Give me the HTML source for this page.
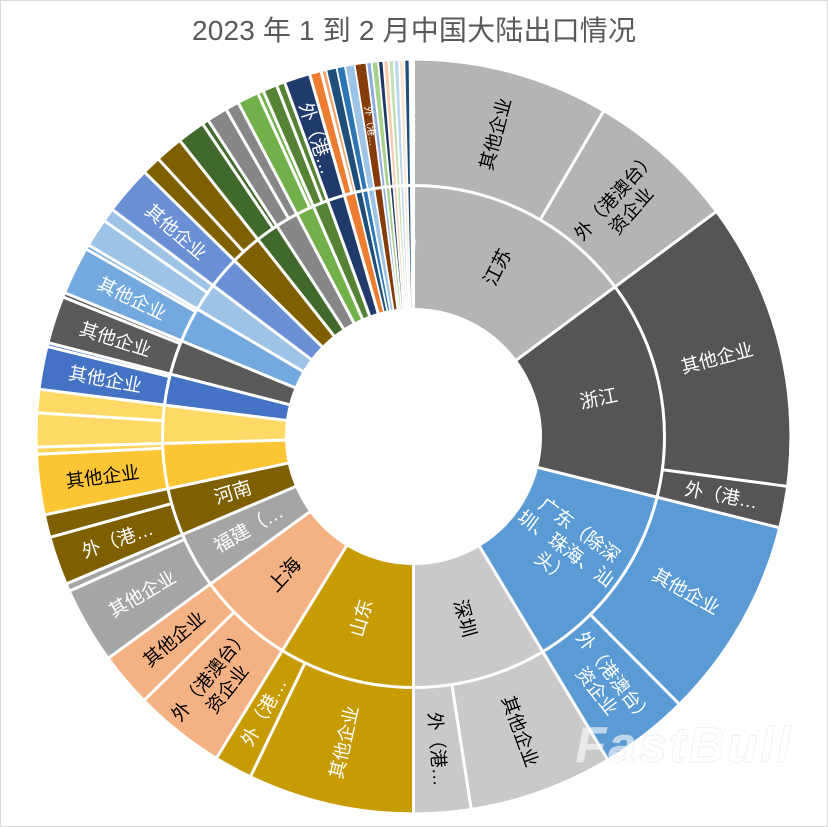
<!DOCTYPE html>
<html>
<head>
<meta charset="utf-8">
<style>
  html,body{margin:0;padding:0;background:#fff;width:828px;height:827px;overflow:hidden;}
  svg{display:block;}
  text{font-family:"Liberation Sans","Noto Sans CJK SC",sans-serif;}
</style>
</head>
<body>
<svg width="828" height="827" viewBox="0 0 828 827" xmlns="http://www.w3.org/2000/svg">
  <rect x="0" y="0" width="828" height="827" fill="#ffffff"/>
  <rect x="0.5" y="0.5" width="827" height="826" fill="none" stroke="#d9d9d9" stroke-width="1"/>

  <text x="414" y="40" font-size="28" fill="#595959" text-anchor="middle" textLength="444">2023 年 1 到 2 月中国大陆出口情况</text>

  <!-- INNER RING r 127..251 -->
  <g fill="none" stroke-width="124" transform="rotate(-90 413.5 436.5)">
    <circle cx="413.5" cy="436.5" r="189" pathLength="360" stroke="#b4b4b4" stroke-dasharray="53.4 999"/>
    <circle cx="413.5" cy="436.5" r="189" pathLength="360" stroke="#555555" stroke-dasharray="0 53.4 50.6 999"/>
    <circle cx="413.5" cy="436.5" r="189" pathLength="360" stroke="#5b9bd5" stroke-dasharray="0 104 45 999"/>
    <circle cx="413.5" cy="436.5" r="189" pathLength="360" stroke="#c9c9c9" stroke-dasharray="0 149 31 999"/>
    <circle cx="413.5" cy="436.5" r="189" pathLength="360" stroke="#c79c02" stroke-dasharray="0 179.95 31.55 999"/>
    <circle cx="413.5" cy="436.5" r="189" pathLength="360" stroke="#f4b183" stroke-dasharray="0 211.5 22.5 999"/>
    <circle cx="413.5" cy="436.5" r="189" pathLength="360" stroke="#a5a5a5" stroke-dasharray="0 234 13 999"/>
    <circle cx="413.5" cy="436.5" r="189" pathLength="360" stroke="#7f6000" stroke-dasharray="0 247 11 999"/>
    <circle cx="413.5" cy="436.5" r="189" pathLength="360" stroke="#fcc534" stroke-dasharray="0 258 10.4 999"/>
    <circle cx="413.5" cy="436.5" r="189" pathLength="360" stroke="#ffd966" stroke-dasharray="0 268.4 8.8 999"/>
    <circle cx="413.5" cy="436.5" r="189" pathLength="360" stroke="#4472c4" stroke-dasharray="0 277.2 7.2 999"/>
    <circle cx="413.5" cy="436.5" r="189" pathLength="360" stroke="#5a5a5a" stroke-dasharray="0 284.4 8 999"/>
    <circle cx="413.5" cy="436.5" r="189" pathLength="360" stroke="#73a9de" stroke-dasharray="0 292.4 8.1 999"/>
    <circle cx="413.5" cy="436.5" r="189" pathLength="360" stroke="#9dc3e6" stroke-dasharray="0 300.5 6.5 999"/>
    <circle cx="413.5" cy="436.5" r="189" pathLength="360" stroke="#6a8fd5" stroke-dasharray="0 307 7.5 999"/>
    <circle cx="413.5" cy="436.5" r="189" pathLength="360" stroke="#7f6000" stroke-dasharray="0 314.5 7.2 999"/>
    <circle cx="413.5" cy="436.5" r="189" pathLength="360" stroke="#42692c" stroke-dasharray="0 321.7 5.3 999"/>
    <circle cx="413.5" cy="436.5" r="189" pathLength="360" stroke="#878787" stroke-dasharray="0 327 5.3 999"/>
    <circle cx="413.5" cy="436.5" r="189" pathLength="360" stroke="#72b04a" stroke-dasharray="0 332.3 4.2 999"/>
    <circle cx="413.5" cy="436.5" r="189" pathLength="360" stroke="#558234" stroke-dasharray="0 336.5 3.5 999"/>
    <circle cx="413.5" cy="436.5" r="189" pathLength="360" stroke="#203b6b" stroke-dasharray="0 340 4 999"/>
    <circle cx="413.5" cy="436.5" r="189" pathLength="360" stroke="#ed7d31" stroke-dasharray="0 344 2.6 999"/>
    <circle cx="413.5" cy="436.5" r="189" pathLength="360" stroke="#1f4e79" stroke-dasharray="0 346.6 1.6 999"/>
    <circle cx="413.5" cy="436.5" r="189" pathLength="360" stroke="#2e75b6" stroke-dasharray="0 348.2 1.3 999"/>
    <circle cx="413.5" cy="436.5" r="189" pathLength="360" stroke="#9dc3e6" stroke-dasharray="0 349.5 1.5 999"/>
    <circle cx="413.5" cy="436.5" r="189" pathLength="360" stroke="#843c0c" stroke-dasharray="0 351 1.8 999"/>
    <circle cx="413.5" cy="436.5" r="189" pathLength="360" stroke="#8faadc" stroke-dasharray="0 352.8 0.8 999"/>
    <circle cx="413.5" cy="436.5" r="189" pathLength="360" stroke="#a9d18e" stroke-dasharray="0 353.6 1 999"/>
    <circle cx="413.5" cy="436.5" r="189" pathLength="360" stroke="#203864" stroke-dasharray="0 354.6 0.8 999"/>
    <circle cx="413.5" cy="436.5" r="189" pathLength="360" stroke="#f8cbad" stroke-dasharray="0 355.4 0.8 999"/>
    <circle cx="413.5" cy="436.5" r="189" pathLength="360" stroke="#c5e0b4" stroke-dasharray="0 356.2 0.8 999"/>
    <circle cx="413.5" cy="436.5" r="189" pathLength="360" stroke="#bdd7ee" stroke-dasharray="0 357 0.8 999"/>
    <circle cx="413.5" cy="436.5" r="189" pathLength="360" stroke="#fbe5d6" stroke-dasharray="0 357.8 0.8 999"/>
    <circle cx="413.5" cy="436.5" r="189" pathLength="360" stroke="#1f4e79" stroke-dasharray="0 358.6 0.8 999"/>
  </g>

  <!-- OUTER RING r 251..376 -->
  <g fill="none" stroke-width="125" transform="rotate(-90 413.5 436.5)">
    <circle cx="413.5" cy="436.5" r="313.5" pathLength="360" stroke="#b4b4b4" stroke-dasharray="53.4 999"/>
    <circle cx="413.5" cy="436.5" r="313.5" pathLength="360" stroke="#555555" stroke-dasharray="0 53.4 50.6 999"/>
    <circle cx="413.5" cy="436.5" r="313.5" pathLength="360" stroke="#5b9bd5" stroke-dasharray="0 104 45 999"/>
    <circle cx="413.5" cy="436.5" r="313.5" pathLength="360" stroke="#c9c9c9" stroke-dasharray="0 149 31 999"/>
    <circle cx="413.5" cy="436.5" r="313.5" pathLength="360" stroke="#c79c02" stroke-dasharray="0 179.95 31.55 999"/>
    <circle cx="413.5" cy="436.5" r="313.5" pathLength="360" stroke="#f4b183" stroke-dasharray="0 211.5 22.5 999"/>
    <circle cx="413.5" cy="436.5" r="313.5" pathLength="360" stroke="#a5a5a5" stroke-dasharray="0 234 13 999"/>
    <circle cx="413.5" cy="436.5" r="313.5" pathLength="360" stroke="#7f6000" stroke-dasharray="0 247 11 999"/>
    <circle cx="413.5" cy="436.5" r="313.5" pathLength="360" stroke="#fcc534" stroke-dasharray="0 258 9.3 999"/>
    <circle cx="413.5" cy="436.5" r="313.5" pathLength="360" stroke="#fdd35a" stroke-dasharray="0 267.3 1.1 999"/>
    <circle cx="413.5" cy="436.5" r="313.5" pathLength="360" stroke="#ffd966" stroke-dasharray="0 268.4 8.8 999"/>
    <circle cx="413.5" cy="436.5" r="313.5" pathLength="360" stroke="#4472c4" stroke-dasharray="0 277.2 7.2 999"/>
    <circle cx="413.5" cy="436.5" r="313.5" pathLength="360" stroke="#5a5a5a" stroke-dasharray="0 284.4 8 999"/>
    <circle cx="413.5" cy="436.5" r="313.5" pathLength="360" stroke="#73a9de" stroke-dasharray="0 292.4 8.1 999"/>
    <circle cx="413.5" cy="436.5" r="313.5" pathLength="360" stroke="#9dc3e6" stroke-dasharray="0 300.5 6.5 999"/>
    <circle cx="413.5" cy="436.5" r="313.5" pathLength="360" stroke="#6a8fd5" stroke-dasharray="0 307 7.5 999"/>
    <circle cx="413.5" cy="436.5" r="313.5" pathLength="360" stroke="#7f6000" stroke-dasharray="0 314.5 7.2 999"/>
    <circle cx="413.5" cy="436.5" r="313.5" pathLength="360" stroke="#42692c" stroke-dasharray="0 321.7 5.3 999"/>
    <circle cx="413.5" cy="436.5" r="313.5" pathLength="360" stroke="#878787" stroke-dasharray="0 327 5.3 999"/>
    <circle cx="413.5" cy="436.5" r="313.5" pathLength="360" stroke="#72b04a" stroke-dasharray="0 332.3 4.2 999"/>
    <circle cx="413.5" cy="436.5" r="313.5" pathLength="360" stroke="#558234" stroke-dasharray="0 336.5 3.5 999"/>
    <circle cx="413.5" cy="436.5" r="313.5" pathLength="360" stroke="#203b6b" stroke-dasharray="0 340 4 999"/>
    <circle cx="413.5" cy="436.5" r="313.5" pathLength="360" stroke="#ed7d31" stroke-dasharray="0 344 1.8 999"/>
    <circle cx="413.5" cy="436.5" r="313.5" pathLength="360" stroke="#f4a46a" stroke-dasharray="0 345.8 0.8 999"/>
    <circle cx="413.5" cy="436.5" r="313.5" pathLength="360" stroke="#1f4e79" stroke-dasharray="0 346.6 1.6 999"/>
    <circle cx="413.5" cy="436.5" r="313.5" pathLength="360" stroke="#2e75b6" stroke-dasharray="0 348.2 1.3 999"/>
    <circle cx="413.5" cy="436.5" r="313.5" pathLength="360" stroke="#9dc3e6" stroke-dasharray="0 349.5 1.5 999"/>
    <circle cx="413.5" cy="436.5" r="313.5" pathLength="360" stroke="#843c0c" stroke-dasharray="0 351 1.8 999"/>
    <circle cx="413.5" cy="436.5" r="313.5" pathLength="360" stroke="#8faadc" stroke-dasharray="0 352.8 0.8 999"/>
    <circle cx="413.5" cy="436.5" r="313.5" pathLength="360" stroke="#a9d18e" stroke-dasharray="0 353.6 1 999"/>
    <circle cx="413.5" cy="436.5" r="313.5" pathLength="360" stroke="#203864" stroke-dasharray="0 354.6 0.8 999"/>
    <circle cx="413.5" cy="436.5" r="313.5" pathLength="360" stroke="#f8cbad" stroke-dasharray="0 355.4 0.8 999"/>
    <circle cx="413.5" cy="436.5" r="313.5" pathLength="360" stroke="#c5e0b4" stroke-dasharray="0 356.2 0.8 999"/>
    <circle cx="413.5" cy="436.5" r="313.5" pathLength="360" stroke="#bdd7ee" stroke-dasharray="0 357 0.8 999"/>
    <circle cx="413.5" cy="436.5" r="313.5" pathLength="360" stroke="#fbe5d6" stroke-dasharray="0 357.8 0.8 999"/>
    <circle cx="413.5" cy="436.5" r="313.5" pathLength="360" stroke="#1f4e79" stroke-dasharray="0 358.6 0.8 999"/>
  </g>

  <!-- separators: province boundaries (full) -->
  <g stroke="#ffffff" stroke-width="3">
    <line x1="413.5" y1="311" x2="413.5" y2="58" transform="rotate(0 413.5 436.5)"/>
    <line x1="413.5" y1="311" x2="413.5" y2="58" transform="rotate(53.4 413.5 436.5)"/>
    <line x1="413.5" y1="311" x2="413.5" y2="58" transform="rotate(104 413.5 436.5)"/>
    <line x1="413.5" y1="311" x2="413.5" y2="58" transform="rotate(149 413.5 436.5)"/>
    <line x1="413.5" y1="311" x2="413.5" y2="58" transform="rotate(180 413.5 436.5)"/>
    <line x1="413.5" y1="311" x2="413.5" y2="58" transform="rotate(211.5 413.5 436.5)"/>
    <line x1="413.5" y1="311" x2="413.5" y2="58" transform="rotate(234 413.5 436.5)"/>
    <line x1="413.5" y1="311" x2="413.5" y2="58" transform="rotate(247 413.5 436.5)"/>
    <line x1="413.5" y1="311" x2="413.5" y2="58" transform="rotate(258 413.5 436.5)"/>
    <line x1="413.5" y1="311" x2="413.5" y2="58" transform="rotate(268.4 413.5 436.5)"/>
    <line x1="413.5" y1="311" x2="413.5" y2="58" transform="rotate(277.2 413.5 436.5)"/>
    <line x1="413.5" y1="311" x2="413.5" y2="58" transform="rotate(284.4 413.5 436.5)"/>
    <line x1="413.5" y1="311" x2="413.5" y2="58" transform="rotate(292.4 413.5 436.5)"/>
    <line x1="413.5" y1="311" x2="413.5" y2="58" transform="rotate(300.5 413.5 436.5)"/>
    <line x1="413.5" y1="311" x2="413.5" y2="58" transform="rotate(307 413.5 436.5)"/>
    <line x1="413.5" y1="311" x2="413.5" y2="58" transform="rotate(314.5 413.5 436.5)"/>
    <line x1="413.5" y1="311" x2="413.5" y2="58" transform="rotate(321.7 413.5 436.5)"/>
    <line x1="413.5" y1="311" x2="413.5" y2="58" transform="rotate(327 413.5 436.5)"/>
    <line x1="413.5" y1="311" x2="413.5" y2="58" transform="rotate(332.3 413.5 436.5)"/>
    <line x1="413.5" y1="311" x2="413.5" y2="58" transform="rotate(336.5 413.5 436.5)"/>
    <line x1="413.5" y1="311" x2="413.5" y2="58" transform="rotate(340 413.5 436.5)"/>
    <line x1="413.5" y1="311" x2="413.5" y2="58" transform="rotate(344 413.5 436.5)"/>
  </g>
  <g stroke="#ffffff" stroke-width="1.8">
    <line x1="413.5" y1="311" x2="413.5" y2="58" transform="rotate(346.6 413.5 436.5)"/>
    <line x1="413.5" y1="311" x2="413.5" y2="58" transform="rotate(348.2 413.5 436.5)"/>
    <line x1="413.5" y1="311" x2="413.5" y2="58" transform="rotate(349.5 413.5 436.5)"/>
    <line x1="413.5" y1="311" x2="413.5" y2="58" transform="rotate(351 413.5 436.5)"/>
    <line x1="413.5" y1="311" x2="413.5" y2="58" transform="rotate(352.8 413.5 436.5)"/>
    <line x1="413.5" y1="311" x2="413.5" y2="58" transform="rotate(353.6 413.5 436.5)"/>
    <line x1="413.5" y1="311" x2="413.5" y2="58" transform="rotate(354.6 413.5 436.5)"/>
    <line x1="413.5" y1="311" x2="413.5" y2="58" transform="rotate(355.4 413.5 436.5)"/>
    <line x1="413.5" y1="311" x2="413.5" y2="58" transform="rotate(356.2 413.5 436.5)"/>
    <line x1="413.5" y1="311" x2="413.5" y2="58" transform="rotate(357 413.5 436.5)"/>
    <line x1="413.5" y1="311" x2="413.5" y2="58" transform="rotate(357.8 413.5 436.5)"/>
    <line x1="413.5" y1="311" x2="413.5" y2="58" transform="rotate(358.6 413.5 436.5)"/>
    <line x1="413.5" y1="311" x2="413.5" y2="58" transform="rotate(359.4 413.5 436.5)"/>
  </g>
  <!-- child boundaries (outer ring only) -->
  <g stroke="#ffffff" stroke-width="3">
    <line x1="413.5" y1="186" x2="413.5" y2="58" transform="rotate(30.3 413.5 436.5)"/>
    <line x1="413.5" y1="186" x2="413.5" y2="58" transform="rotate(97.6 413.5 436.5)"/>
    <line x1="413.5" y1="186" x2="413.5" y2="58" transform="rotate(135.2 413.5 436.5)"/>
    <line x1="413.5" y1="186" x2="413.5" y2="58" transform="rotate(171.2 413.5 436.5)"/>
    <line x1="413.5" y1="186" x2="413.5" y2="58" transform="rotate(205.6 413.5 436.5)"/>
    <line x1="413.5" y1="186" x2="413.5" y2="58" transform="rotate(225.6 413.5 436.5)"/>
    <line x1="413.5" y1="186" x2="413.5" y2="58" transform="rotate(245.8 413.5 436.5)"/>
    <line x1="413.5" y1="186" x2="413.5" y2="58" transform="rotate(254.5 413.5 436.5)"/>
    <line x1="413.5" y1="186" x2="413.5" y2="58" transform="rotate(267.3 413.5 436.5)"/>
    <line x1="413.5" y1="186" x2="413.5" y2="58" transform="rotate(273.6 413.5 436.5)"/>
    <line x1="413.5" y1="186" x2="413.5" y2="58" transform="rotate(283.8 413.5 436.5)"/>
    <line x1="413.5" y1="186" x2="413.5" y2="58" transform="rotate(291.7 413.5 436.5)"/>
    <line x1="413.5" y1="186" x2="413.5" y2="58" transform="rotate(299.8 413.5 436.5)"/>
    <line x1="413.5" y1="186" x2="413.5" y2="58" transform="rotate(304.9 413.5 436.5)"/>
    <line x1="413.5" y1="186" x2="413.5" y2="58" transform="rotate(317.4 413.5 436.5)"/>
    <line x1="413.5" y1="186" x2="413.5" y2="58" transform="rotate(326 413.5 436.5)"/>
    <line x1="413.5" y1="186" x2="413.5" y2="58" transform="rotate(330.2 413.5 436.5)"/>
    <line x1="413.5" y1="186" x2="413.5" y2="58" transform="rotate(335.6 413.5 436.5)"/>
    <line x1="413.5" y1="186" x2="413.5" y2="58" transform="rotate(338.7 413.5 436.5)"/>
    <line x1="413.5" y1="186" x2="413.5" y2="58" transform="rotate(345.8 413.5 436.5)"/>
  </g>
  <!-- ring borders -->
  <circle cx="413.5" cy="436.5" r="251" fill="none" stroke="#ffffff" stroke-width="3"/>
  <circle cx="413.5" cy="436.5" r="127.5" fill="#ffffff" stroke="#ffffff" stroke-width="2"/>
  <circle cx="413.5" cy="436.5" r="377" fill="none" stroke="#ffffff" stroke-width="2"/>

  <!-- INNER LABELS (r=189 => y=247.5) -->
  <g font-size="19" text-anchor="middle" dominant-baseline="central">
    <text fill="#000" transform="rotate(26.7 413.5 436.5) translate(413.5 247.5) rotate(-90)">江苏</text>
    <text fill="#fff" transform="rotate(78.7 413.5 436.5) translate(413.5 247.5) rotate(-90)">浙江</text>
    <text fill="#fff" transform="rotate(126.5 413.5 436.5) translate(413.5 247.5) rotate(-90)"><tspan x="0" dy="-1.2em">广东（除深</tspan><tspan x="0" dy="1.2em">圳、珠海、汕</tspan><tspan x="0" dy="1.2em">头）</tspan></text>
    <text fill="#000" transform="rotate(164.5 413.5 436.5) translate(413.5 247.5) rotate(-90)">深圳</text>
    <text fill="#fff" transform="rotate(195.75 413.5 436.5) translate(413.5 247.5) rotate(90)">山东</text>
    <text fill="#000" transform="rotate(222.75 413.5 436.5) translate(413.5 247.5) rotate(90)">上海</text>
    <text fill="#fff" transform="rotate(240.5 413.5 436.5) translate(413.5 247.5) rotate(90)">福建（…</text>
    <text fill="#fff" transform="rotate(252.5 413.5 436.5) translate(413.5 247.5) rotate(90)">河南</text>
    <text fill="#fff" font-size="6" transform="rotate(359.6 413.5 436.5) translate(413.5 247.5) rotate(90)">其他…</text>
  </g>

  <!-- OUTER LABELS (r=313.5 => y=123) -->
  <g font-size="18.5" text-anchor="middle" dominant-baseline="central">
    <text fill="#000" transform="rotate(15.15 413.5 436.5) translate(413.5 123) rotate(-90)">其他企业</text>
    <text fill="#000" transform="rotate(41.85 413.5 436.5) translate(413.5 123) rotate(-90)"><tspan x="0" dy="-0.6em">外（港澳台）</tspan><tspan x="0" dy="1.2em">资企业</tspan></text>
    <text fill="#fff" transform="rotate(75.5 413.5 436.5) translate(413.5 123) rotate(-90)">其他企业</text>
    <text fill="#fff" transform="rotate(100.8 413.5 436.5) translate(413.5 123) rotate(-90)">外（港…</text>
    <text fill="#fff" transform="rotate(119.6 413.5 436.5) translate(413.5 123) rotate(-90)">其他企业</text>
    <text fill="#fff" transform="rotate(142.1 413.5 436.5) translate(413.5 123) rotate(-90)"><tspan x="0" dy="-0.6em">外（港澳台）</tspan><tspan x="0" dy="1.2em">资企业</tspan></text>
    <text fill="#000" transform="rotate(160.1 413.5 436.5) translate(413.5 123) rotate(-90)">其他企业</text>
    <text fill="#000" transform="rotate(175.6 413.5 436.5) translate(413.5 123) rotate(-90)">外（港…</text>
    <text fill="#fff" transform="rotate(192.8 413.5 436.5) translate(413.5 123) rotate(90)">其他企业</text>
    <text fill="#fff" transform="rotate(208.55 413.5 436.5) translate(413.5 123) rotate(90)">外（港…</text>
    <text fill="#000" transform="rotate(218.55 413.5 436.5) translate(413.5 123) rotate(90)"><tspan x="0" dy="-0.6em">外（港澳台）</tspan><tspan x="0" dy="1.2em">资企业</tspan></text>
    <text fill="#000" transform="rotate(229.8 413.5 436.5) translate(413.5 123) rotate(90)">其他企业</text>
    <text fill="#fff" transform="rotate(239.9 413.5 436.5) translate(413.5 123) rotate(90)">其他企业</text>
    <text fill="#fff" transform="rotate(250.75 413.5 436.5) translate(413.5 123) rotate(90)">外（港…</text>
    <text fill="#000" transform="rotate(262.65 413.5 436.5) translate(413.5 123) rotate(90)">其他企业</text>
    <text fill="#fff" transform="rotate(280.5 413.5 436.5) translate(413.5 123) rotate(90)">其他企业</text>
    <text fill="#fff" transform="rotate(288.05 413.5 436.5) translate(413.5 123) rotate(90)">其他企业</text>
    <text fill="#fff" transform="rotate(296.1 413.5 436.5) translate(413.5 123) rotate(90)">其他企业</text>
    <text fill="#fff" transform="rotate(310.75 413.5 436.5) translate(413.5 123) rotate(90)">其他企业</text>
    <text fill="#fff" transform="rotate(342 413.5 436.5) translate(413.5 123) rotate(90)">外（港…</text>
    <text fill="#fff" font-size="10" transform="rotate(352 413.5 436.5) translate(413.5 123) rotate(90)">外（港…</text>
    <text fill="#fff" font-size="7" transform="rotate(359.6 413.5 436.5) translate(413.5 123) rotate(90)">其他企业其他</text>
  </g>

  <!-- watermark -->
  <text x="683" y="762" font-size="50" font-weight="bold" font-style="italic" text-anchor="middle" textLength="215" fill="#ffffff" fill-opacity="0.6" stroke="#e0e0e0" stroke-opacity="0.45" stroke-width="1">FastBull</text>
</svg>
</body>
</html>
